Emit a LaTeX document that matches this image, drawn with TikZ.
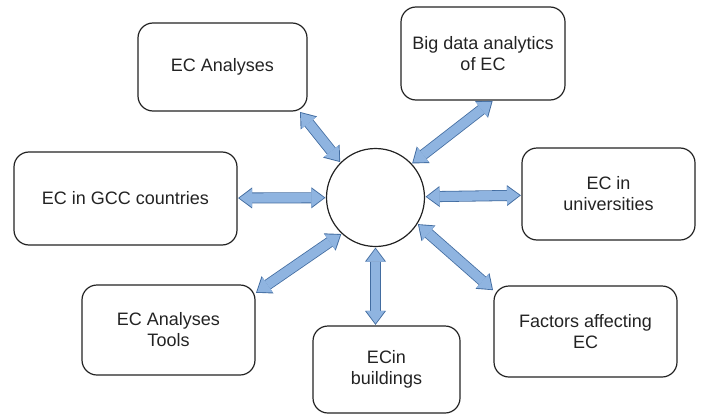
\documentclass[tikz,border=0pt]{standalone}
\usepackage{fontspec}
\setmainfont{Liberation Sans}
\usepackage{tikz}
\usetikzlibrary{arrows.meta}
\definecolor{linkblue}{RGB}{143, 180, 224}
\definecolor{linkdark}{RGB}{66, 108, 160}
\definecolor{inkgray}{RGB}{35, 35, 35}

\begin{document}
\begin{tikzpicture}[
    x=1pt, y=-1pt,
    topic/.style={rectangle, draw=inkgray, line width=1.2pt, rounded corners=15pt, align=center, inner sep=0pt, text=inkgray, font=\fontsize{18}{21}\selectfont},
    hub/.style={circle, draw=inkgray, line width=1.2pt, minimum size=98pt, inner sep=0pt},
    linkedge/.style={line width=11pt, draw=linkdark, shorten <=0.5pt, shorten >=0.5pt, {Triangle[width=21pt, length=14pt, line width=0pt]}-{Triangle[width=21pt, length=14pt, line width=0pt]}},
    linkfill/.style={line width=9.4pt, draw=linkblue, shorten <=1.9pt, shorten >=1.9pt, {Triangle[width=18.6pt, length=12.6pt, line width=0pt]}-{Triangle[width=18.6pt, length=12.6pt, line width=0pt]}}
]
    \useasboundingbox (0,0) rectangle (701,415);

    \node[hub] (hub) at (375.5,197.5) {};

    \node[topic, minimum width=169pt, minimum height=88pt] (ana) at (222.5,67) {EC Analyses};
    \node[topic, minimum width=164pt, minimum height=93pt] (big) at (483,53.5) {Big data analytics\\of EC};
    \node[topic, minimum width=223pt, minimum height=93pt] (gcc) at (125.5,198.5) {EC in GCC countries};
    \node[topic, minimum width=173pt, minimum height=92pt] (uni) at (608.5,194) {EC in\\universities};
    \node[topic, minimum width=173pt, minimum height=90pt] (tool) at (168.5,330) {EC Analyses\\Tools};
    \node[topic, minimum width=147pt, minimum height=87pt] (bld) at (386.5,369.5) {ECin\\buildings};
    \node[topic, minimum width=183pt, minimum height=91pt] (fac) at (585.5,331.5) {Factors affecting\\EC};

    % double block arrows: dark outline first, light body on top
    \foreach \a/\b in {hub.135/ana.-30, hub.43/big.-78, hub/gcc, hub/uni, hub.227/tool.23, hub.south/hub.south |- bld.north, hub.328/fac.156} {
        \draw[linkedge] (\a) -- (\b);
        \draw[linkfill] (\a) -- (\b);
    }
\end{tikzpicture}
\end{document}
